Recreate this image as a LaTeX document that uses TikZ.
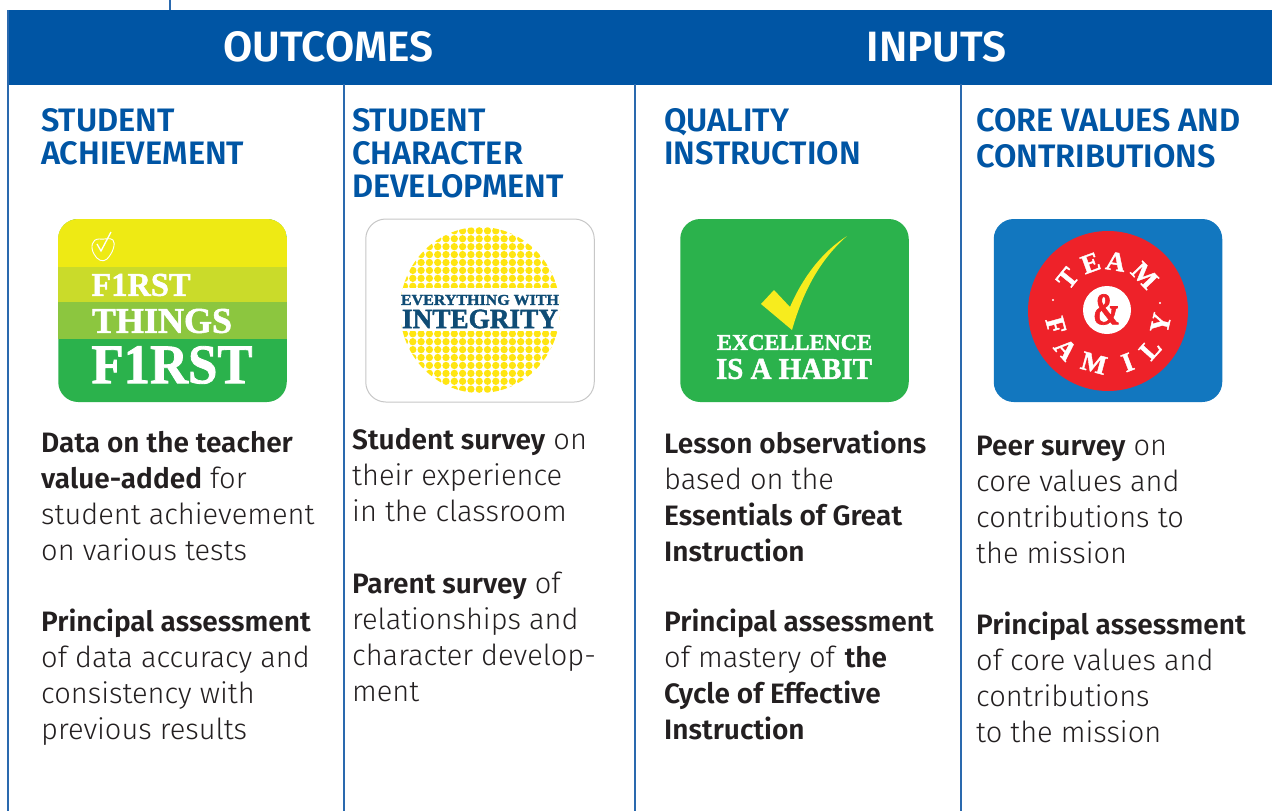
\documentclass[tikz,border=0pt]{standalone}
\usepackage{fontspec}
\usepackage{graphicx}
\setmainfont{Fira Sans Light}[BoldFont={Fira Sans SemiBold},BoldFeatures={Scale=0.968}]
\newfontfamily\headfont{Fira Sans SemiBold}
\newfontfamily\slab{Liberation Serif Bold}[FakeBold=1.5]
\newcommand{\fitbox}[3]{\resizebox{#1pt}{#2pt}{\slab #3}}
\definecolor{band}{HTML}{0055A4}
\definecolor{rule}{HTML}{2A69AE}
\definecolor{ink}{HTML}{231F20}
\definecolor{yA}{HTML}{EEEA14}
\definecolor{yB}{HTML}{CADB2A}
\definecolor{yC}{HTML}{8CC63F}
\definecolor{gr}{HTML}{2BB24C}
\definecolor{dotc}{HTML}{FFE511}
\definecolor{navy}{HTML}{0F4C75}
\definecolor{blu}{HTML}{1277BF}
\definecolor{redc}{HTML}{EE2229}
\definecolor{chk}{HTML}{F7EC1E}
\tikzset{
  bar/.style={fill=band,draw=none,inner sep=0pt,minimum width=1264pt,minimum height=75pt},
  bartext/.style={text=white,inner sep=0pt,font=\headfont\fontsize{42.4}{42}\selectfont},
  colrule/.style={draw=rule,line width=1.3pt},
  head/.style={anchor=north west,inner sep=0pt,align=left,text=band,font=\headfont\fontsize{32.5}{33}\selectfont},
  body/.style={anchor=north west,inner sep=0pt,align=left,text=ink,font=\fontsize{29}{35.9}\selectfont},
  logotext/.style={text=white,inner sep=0pt},
  logobox/.style={rounded corners=20pt,inner sep=0pt,minimum width=228.5pt,minimum height=183pt},
  tlet/.style={text=white,inner sep=0pt,font=\slab\fontsize{27}{27}\selectfont}
}
\begin{document}
\begin{tikzpicture}[x=1pt,y=-1pt]
\useasboundingbox (0,0) rectangle (1272,811);
\fill[white] (0,0) rectangle (1272,811);
% header and rules
\coordinate (t0) at (170,0);
\node[bar] (bar) at (640,47) {};
\draw[colrule] (t0) -- (170,10);
\foreach \x/\n in {8/a,344/b,635/c,961/d}{
  \coordinate (r\n) at (\x,84);
  \coordinate (s\n) at (\x,811);
  \draw[colrule] (r\n) -- (s\n);
}
\draw[colrule] (8,10) -- (8,84);
\node[bartext] (outc) at (328.5,47) {OUTCOMES};
\node[bartext] (inp) at (936.5,47) {INPUTS};
% headings
\node[head] (h1) at (41,108) {STUDENT\\ACHIEVEMENT};
\node[head] (h2) at (352,108) {STUDENT\\CHARACTER\\DEVELOPMENT};
\node[head] (h3) at (664,108) {QUALITY\\INSTRUCTION};
\node[head,font=\headfont\fontsize{32.5}{36}\selectfont] (h4) at (976,108) {CORE VALUES AND\\CONTRIBUTIONS};
% logo 1
\node[logobox,fill=gr] (l1) at (172.5,310.5) {};
\begin{scope}
  \clip[rounded corners=20pt] (58,219) rectangle (287,402);
  \fill[yA] (58,219) rectangle (287,267);
  \fill[yB] (58,267) rectangle (287,302);
  \fill[yC] (58,302) rectangle (287,339);
\end{scope}
\draw[white,line width=0.9pt] (99,239) .. controls (92,239) and (90,247) .. (94,254) .. controls (97,260) and (103,263) .. (107,259) .. controls (113,253) and (116,243) .. (113,240) .. controls (110,237) and (104,240) .. (99,239);
\draw[white,line width=1.3pt] (97,244) -- (101,251) -- (111,232);
\node[logotext] (f1) at (141,285) {\fitbox{99}{22}{F1RST}};
\node[logotext] (f2) at (162,321) {\fitbox{140}{24}{THINGS}};
\node[logotext] (f3) at (172,365) {\fitbox{161}{37}{F1RST}};
% logo 2
\node[logobox,draw=black!22,line width=1pt,fill=white] (l2) at (480,310.5) {};
\begin{scope}
  \clip (480,310) ellipse [x radius=80pt,y radius=83pt];
  \foreach \r in {0,...,22}{
    \pgfmathsetmacro{\yy}{222.9+\r*7.92}
    \foreach \c in {0,...,20}{
      \fill[dotc] ({396.2+\c*8.3},\yy) circle (3.65pt);
    }
  }
  \fill[white] (395,288) rectangle (565,331);
\end{scope}
\node[logotext,text=navy] (ev) at (480,300) {\fitbox{158}{10}{EVERYTHING WITH}};
\node[logotext,text=navy] (ig) at (480,319) {\fitbox{156}{18.5}{INTEGRITY}};
% logo 3
\node[logobox,fill=gr] (l3) at (794.5,310.5) {};
\fill[chk] (761,304) -- (774,290) -- (790,307) .. controls (803,277) and (822,252) .. (847,236) .. controls (822,258) and (804,288) .. (792,330) -- cycle;
\node[logotext] (ex) at (794.5,342.5) {\fitbox{155}{15}{EXCELLENCE}};
\node[logotext] (ha) at (794,369) {\fitbox{156}{20}{IS A HABIT}};
% logo 4
\node[logobox,fill=blu] (l4) at (1108,310.5) {};
\node[circle,fill=redc,inner sep=0pt,minimum size=160pt] (rc) at (1108,311) {};
\node[circle,fill=white,inner sep=0pt,minimum size=48pt] (wc) at (1107,310) {};
\node[text=redc,inner sep=0pt] (amp) at (1106.5,309.5) {\fitbox{27}{30}{\&}};
\foreach \l/\a/\r in {T/141/52,E/110/51,A/81/50,M/44/51,F/195.5/54,A/222/57,M/255/54,I/291/55,L/318/57,Y/347/54}{
  \pgfmathsetmacro{\rr}{\a>180 ? \a-270 : \a-90}
  \node[tlet,rotate=\rr] at ({1108+\r*cos(\a)},{311-\r*sin(\a)}) {\l};
}
\fill[white] (1053,300) circle (1.2pt) (1160,303) circle (1.2pt);
% body
\node[body] (b1a) at (41,431) {\textbf{Data on the teacher}\\\textbf{value-added} for\\student achievement\\on various tests};
\node[body] (b1b) at (41,609) {\textbf{Principal assessment}\\of data accuracy and\\consistency with\\previous results};
\node[body] (b2a) at (352,428) {\textbf{Student survey} on\\their experience\\in the classroom};
\node[body] (b2b) at (352,572) {\textbf{Parent survey} of\\relationships and\\character develop-\\ment};
\node[body] (b3a) at (664,431) {\textbf{Lesson observations}\\based on the\\\textbf{Essentials of Great}\\\textbf{Instruction}};
\node[body] (b3b) at (664,609) {\textbf{Principal assessment}\\of mastery of \textbf{the}\\\textbf{Cycle of Effective}\\\textbf{Instruction}};
\node[body] (b4a) at (976,436) {\textbf{Peer survey} on\\core values and\\contributions to\\the mission};
\node[body] (b4b) at (976,612) {\textbf{Principal assessment}\\of core values and\\contributions\\to the mission};
\end{tikzpicture}
\end{document}
